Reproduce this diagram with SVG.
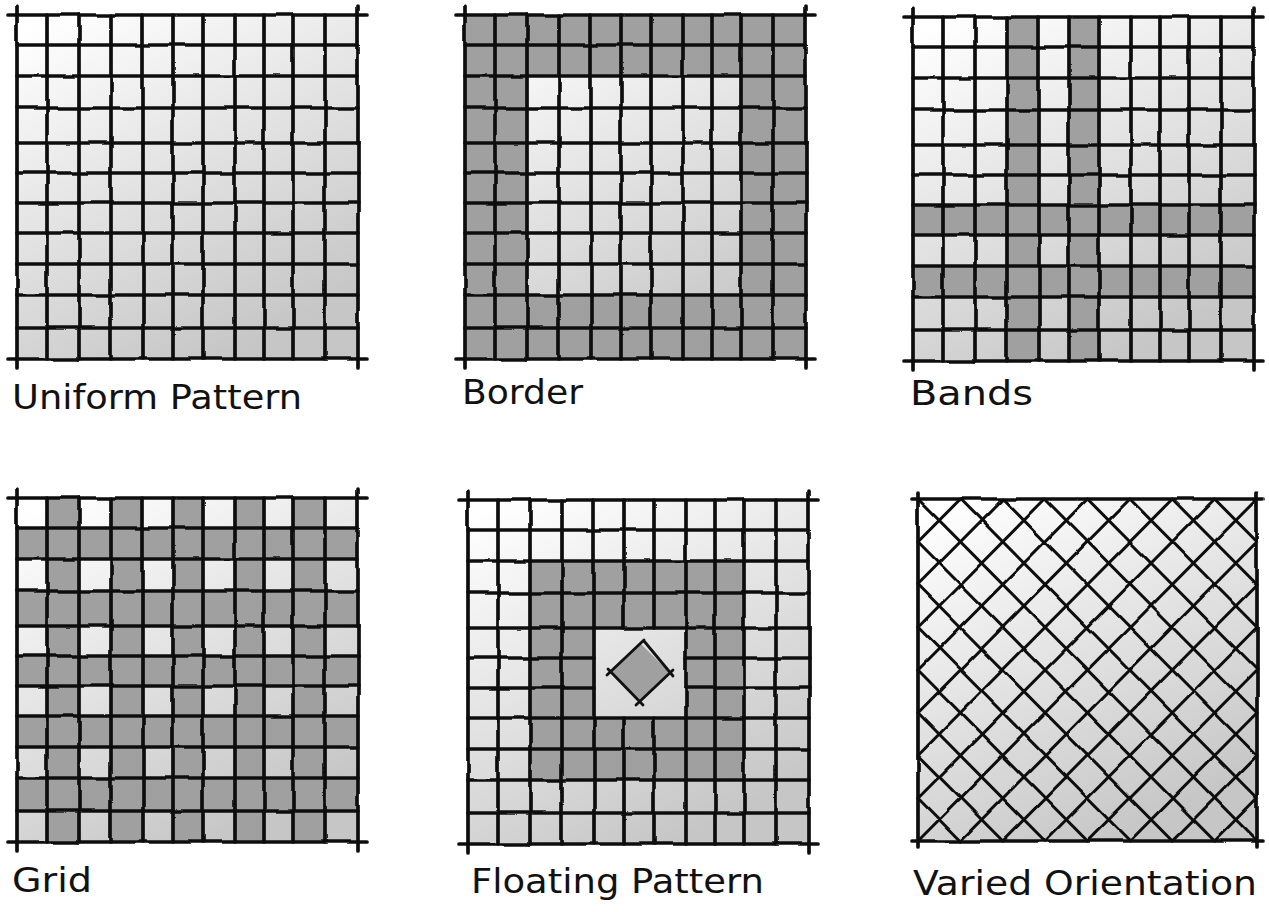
<svg xmlns="http://www.w3.org/2000/svg" xmlns:xlink="http://www.w3.org/1999/xlink" width="1269" height="912" viewBox="0 0 1269 912">
<style>
.ln{fill:none;stroke:#111111;stroke-width:3.7;stroke-linecap:round;stroke-linejoin:round}
.ln6{fill:none;stroke:#111111;stroke-width:3;stroke-linecap:round}
.dk{fill:#a0a0a0}
.bg{fill:url(#bg)}
.lbl{font-family:"DejaVu Sans","Liberation Sans",sans-serif;font-size:33px;fill:#111}
</style>
<defs>
<linearGradient id="bg" x1="0.1" y1="0" x2="0.6" y2="1">
<stop offset="0" stop-color="#ffffff"/>
<stop offset="1" stop-color="#c6c6c6"/>
</linearGradient>
<filter id="rough" x="-4%" y="-4%" width="108%" height="108%">
<feTurbulence type="fractalNoise" baseFrequency="0.028" numOctaves="1" seed="4"/>
<feDisplacementMap in="SourceGraphic" scale="3.5" xChannelSelector="R" yChannelSelector="G"/>
</filter>
<g id="gridlines" class="ln">
<path d="M0,-9V353 M30,0V344 M62,0V344 M94,0V344 M126,0V344 M156,0V344 M186,0V344 M218,0V344 M247,0V344 M276,0V344 M308,0V344 M341,-9V353"/>
<path d="M-9,0H350 M0,30H341 M0,61H341 M0,93H341 M0,128H341 M0,158H341 M0,188H341 M0,218H341 M0,249H341 M0,280H341 M0,313H341 M-9,344H350"/>
</g>
</defs>
<rect width="1269" height="912" fill="#ffffff"/>

<g id="uniform-pattern">
<g transform="translate(17,15)">
<rect class="bg" width="341" height="344"/>
<g filter="url(#rough)"><use xlink:href="#gridlines"/></g>
</g>
<text class="lbl" x="12" y="409" textLength="290" lengthAdjust="spacingAndGlyphs">Uniform Pattern</text>
</g>

<g id="border">
<g transform="translate(465,15)">
<rect class="bg" width="341" height="344"/>
<path class="dk" fill-rule="evenodd" d="M0,0H341V344H0Z M62,61V280H276V61Z"/>
<g filter="url(#rough)"><use xlink:href="#gridlines"/></g>
</g>
<text class="lbl" x="462" y="404" textLength="121" lengthAdjust="spacingAndGlyphs">Border</text>
</g>

<g id="bands">
<g transform="translate(913,17)">
<rect class="bg" width="341" height="344"/>
<rect class="dk" x="94" y="0" width="32" height="344"/>
<rect class="dk" x="156" y="0" width="30" height="344"/>
<rect class="dk" x="0" y="188" width="341" height="30"/>
<rect class="dk" x="0" y="249" width="341" height="31"/>
<g filter="url(#rough)"><use xlink:href="#gridlines"/></g>
</g>
<text class="lbl" x="910" y="405" textLength="123" lengthAdjust="spacingAndGlyphs">Bands</text>
</g>

<g id="grid">
<g transform="translate(17,498)">
<rect class="bg" width="341" height="344"/>
<rect class="dk" x="30" y="0" width="32" height="344"/>
<rect class="dk" x="94" y="0" width="32" height="344"/>
<rect class="dk" x="156" y="0" width="30" height="344"/>
<rect class="dk" x="218" y="0" width="29" height="344"/>
<rect class="dk" x="276" y="0" width="32" height="344"/>
<rect class="dk" x="0" y="30" width="341" height="31"/>
<rect class="dk" x="0" y="93" width="341" height="35"/>
<rect class="dk" x="0" y="158" width="341" height="30"/>
<rect class="dk" x="0" y="218" width="341" height="31"/>
<rect class="dk" x="0" y="280" width="341" height="33"/>
<g filter="url(#rough)"><use xlink:href="#gridlines"/></g>
</g>
<text class="lbl" x="12" y="892" textLength="80" lengthAdjust="spacingAndGlyphs">Grid</text>
</g>

<g id="floating-pattern">
<g transform="translate(468,500)">
<rect class="bg" width="341" height="344"/>
<path class="dk" fill-rule="evenodd" d="M62,61H276V280H62Z M126,128V218H218V128Z"/>
<g filter="url(#rough)" class="ln">
<path d="M0,-9V353 M30,0V344 M62,0V344 M94,0V344 M126,0V344 M156,0V128 M156,218V344 M186,0V128 M186,218V344 M218,0V344 M247,0V344 M276,0V344 M308,0V344 M341,-9V353"/>
<path d="M-9,0H350 M0,30H341 M0,61H341 M0,93H341 M0,128H341 M0,158H126 M218,158H341 M0,188H126 M218,188H341 M0,218H341 M0,249H341 M0,280H341 M0,313H341 M-9,344H350"/>
</g>
<polygon class="dk" points="173,144 202,173 171,202 143,172"/>
<path class="ln" style="stroke-width:2.8" d="M176,141L205,176 M205,170L168,205 M175,205L140,169 M139,175L176,140"/>
</g>
<text class="lbl" x="471" y="893" textLength="293" lengthAdjust="spacingAndGlyphs">Floating Pattern</text>
</g>

<g id="varied-orientation">
<g transform="translate(918,499)">
<rect class="bg" width="339" height="342"/>
<g filter="url(#rough)">
<path class="ln6" d="M0,0L339,342 M42.4,0L339,299.3 M84.8,0L339,256.5 M127.1,0L339,213.8 M169.5,0L339,171 M211.9,0L339,128.3 M254.3,0L339,85.5 M296.6,0L339,42.8 M0,42.8L296.6,342 M0,85.5L254.3,342 M0,128.3L211.9,342 M0,171L169.5,342 M0,213.8L127.1,342 M0,256.5L84.8,342 M0,299.3L42.4,342"/>
<path class="ln6" d="M0,42.8L42.4,0 M0,85.5L84.8,0 M0,128.3L127.1,0 M0,171L169.5,0 M0,213.8L211.9,0 M0,256.5L254.3,0 M0,299.3L296.6,0 M0,342L339,0 M42.4,342L339,42.8 M84.8,342L339,85.5 M127.1,342L339,128.3 M169.5,342L339,171 M211.9,342L339,213.8 M254.3,342L339,256.5 M296.6,342L339,299.3"/>
<path class="ln" d="M-6,0H345 M-6,342H345 M0,-6V348 M339,-6V348"/>
</g>
</g>
<text class="lbl" x="913" y="895" textLength="344" lengthAdjust="spacingAndGlyphs">Varied Orientation</text>
</g>
</svg>
